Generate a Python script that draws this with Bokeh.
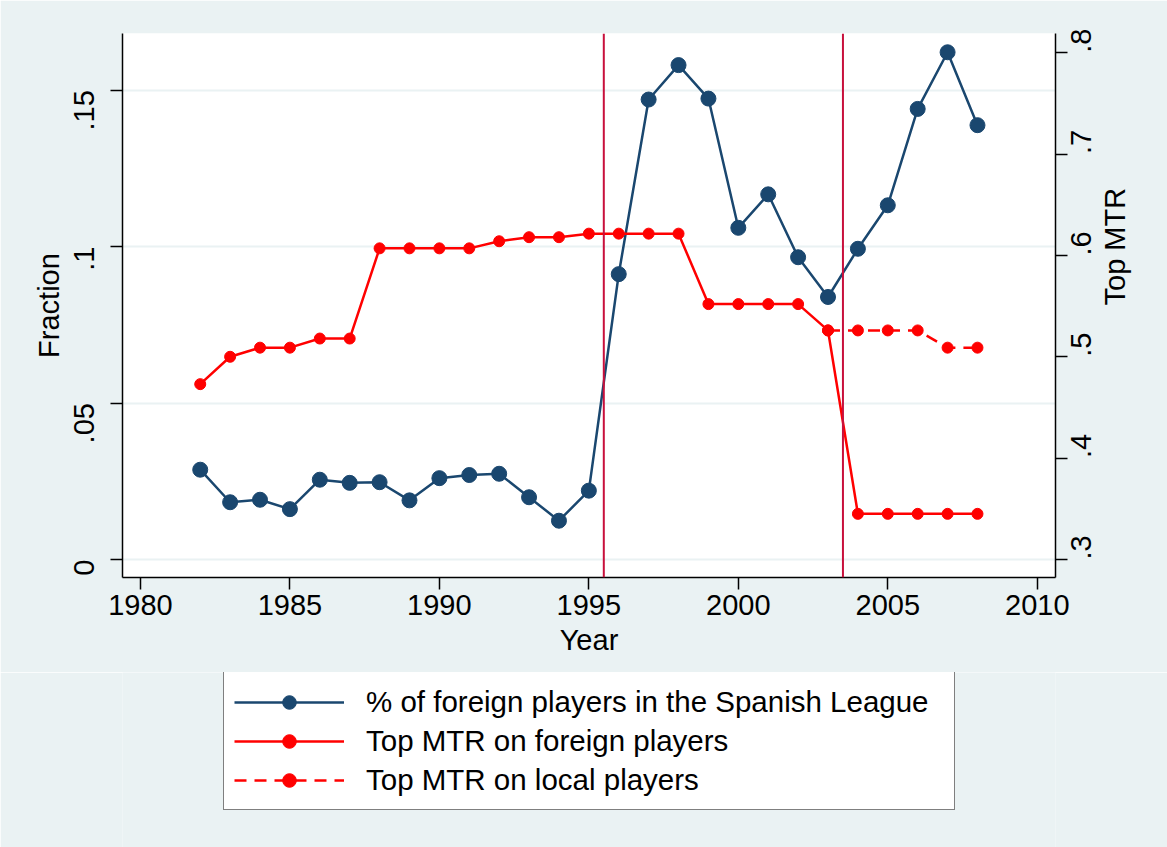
import math
from bokeh.plotting import figure
from bokeh.layouts import column
from bokeh.models import (Range1d, LinearAxis, FixedTicker, Span, Legend,
                          LegendItem)
from bokeh.embed import file_html
from bokeh.resources import INLINE

# ---------------- data ----------------
years = list(range(1982, 2009))
foreign_share = [0.0287, 0.0183, 0.0191, 0.0161, 0.0255, 0.0245, 0.0247,
                 0.0189, 0.0260, 0.0270, 0.0274, 0.0199, 0.0124, 0.0220,
                 0.0912, 0.1470, 0.1580, 0.1473, 0.1060, 0.1167, 0.0966,
                 0.0839, 0.0993, 0.1132, 0.1440, 0.1621, 0.1388]
mtr_foreign = [0.473, 0.500, 0.509, 0.509, 0.518, 0.518,
               0.607, 0.607, 0.607, 0.607, 0.614, 0.618, 0.618,
               0.6215, 0.6215, 0.6215, 0.6215,
               0.552, 0.552, 0.552, 0.552, 0.526,
               0.345, 0.345, 0.345, 0.345, 0.345]
local_years = [2003, 2004, 2005, 2006, 2007, 2008]
mtr_local = [0.526, 0.526, 0.526, 0.526, 0.509, 0.509]
reform_years = [1995.5, 2003.5]

x_ticks = [1980, 1985, 1990, 1995, 2000, 2005, 2010]
left_ticks = [0, 0.05, 0.1, 0.15]
left_labels = ["0", ".05", ".1", ".15"]
right_ticks = [0.3, 0.4, 0.5, 0.6, 0.7, 0.8]
right_labels = [".3", ".4", ".5", ".6", ".7", ".8"]

series_labels = ["% of foreign players in the Spanish League",
                 "Top MTR on foreign players",
                 "Top MTR on local players"]

# ---------------- style ----------------
BG = "#EAF2F3"
NAVY = "#1A476F"
RED = "#FF0000"
XLINE = "#C8103C"
FONT = "Liberation Sans"
FS = "29px"
W = 1167

p = figure(width=W, height=672,
           x_range=Range1d(1979.4, 2010.61),
           y_range=Range1d(-0.00575, 0.1681),
           output_backend="svg", toolbar_location=None,
           min_border_left=122, min_border_right=112,
           min_border_top=33, min_border_bottom=95,
           background_fill_color="white", border_fill_color=BG,
           outline_line_color=None)

p.extra_y_ranges = {"mtr": Range1d(0.2822, 0.819)}

def style_axis(ax):
    ax.axis_line_color = "black"
    ax.axis_line_width = 1.5
    ax.major_tick_line_color = "black"
    ax.major_tick_line_width = 1.5
    ax.major_tick_out = 12
    ax.major_tick_in = 0
    ax.minor_tick_out = 0
    ax.minor_tick_in = 0
    ax.major_label_text_font = FONT
    ax.major_label_text_font_size = FS
    ax.major_label_text_color = "black"
    ax.axis_label_text_font = FONT
    ax.axis_label_text_font_size = FS
    ax.axis_label_text_font_style = "normal"
    ax.axis_label_text_color = "black"

xax = p.xaxis[0]
style_axis(xax)
xax.ticker = FixedTicker(ticks=x_ticks)
xax.axis_label = "Year"
xax.major_label_standoff = 5
xax.axis_label_standoff = 6

yax = p.yaxis[0]
style_axis(yax)
yax.ticker = FixedTicker(ticks=left_ticks)
yax.major_label_overrides = {t: l for t, l in zip(left_ticks, left_labels)}
yax.major_label_orientation = math.pi / 2
yax.axis_label = "Fraction"
yax.major_label_standoff = 26
yax.axis_label_standoff = -3

rax = LinearAxis(y_range_name="mtr", ticker=FixedTicker(ticks=right_ticks))
style_axis(rax)
rax.major_label_overrides = {t: l for t, l in zip(right_ticks, right_labels)}
rax.major_label_orientation = math.pi / 2
rax.axis_label = "Top MTR"
rax.axis_label_orientation = math.pi / 2
rax.major_label_standoff = 14
rax.axis_label_standoff = 10
p.add_layout(rax, "right")

p.xgrid.visible = False
p.ygrid.ticker = FixedTicker(ticks=left_ticks)
p.ygrid.grid_line_color = BG
p.ygrid.grid_line_width = 2

# ---------------- glyphs ----------------
navy_line = dict(line_color=NAVY, line_width=2.5)
navy_dot = dict(size=15, fill_color=NAVY, line_color=NAVY)
red_line = dict(line_color=RED, line_width=2.5)
red_dash = dict(line_color=RED, line_width=2.5, line_dash="12 8")
red_dot = dict(size=11, fill_color=RED, line_color=RED)

p.line(years, foreign_share, **navy_line)
p.scatter(years, foreign_share, **navy_dot)
p.line(local_years, mtr_local, y_range_name="mtr", **red_dash)
p.scatter(local_years, mtr_local, y_range_name="mtr", **red_dot)
p.line(years, mtr_foreign, y_range_name="mtr", **red_line)
p.scatter(years, mtr_foreign, y_range_name="mtr", **red_dot)

for yr in reform_years:
    p.add_layout(Span(location=yr, dimension="height", line_color=XLINE,
                      line_width=2))

# ---------------- legend panel ----------------
# the same series are drawn here outside the visible range, so that the
# legend below the chart has renderers with the right styles to show
lf = figure(width=W, height=175, x_range=Range1d(0, 1), y_range=Range1d(0, 1),
            output_backend="svg", toolbar_location=None,
            x_axis_type=None, y_axis_type=None, min_border=0,
            background_fill_color=BG, border_fill_color=BG,
            outline_line_color=None)
lf.grid.visible = False

l1 = lf.line(years, foreign_share, **navy_line)
s1 = lf.scatter(years, foreign_share, **navy_dot)
l2 = lf.line(years, mtr_foreign, **red_line)
s2 = lf.scatter(years, mtr_foreign, **red_dot)
l3 = lf.line(local_years, mtr_local, **red_dash)
s3 = lf.scatter(local_years, mtr_local, **red_dot)

legend = Legend(items=[
    LegendItem(label=series_labels[0], renderers=[l1, s1]),
    LegendItem(label=series_labels[1], renderers=[l2, s2]),
    LegendItem(label=series_labels[2], renderers=[l3, s3]),
], location=(101, 37), orientation="vertical",
    label_text_font=FONT, label_text_font_size="29.5px",
    label_text_color="black",
    glyph_width=110, glyph_height=34, label_standoff=22, label_width=578,
    label_height=39, padding=10, spacing=0, margin=0,
    border_line_color="black", border_line_width=1.2,
    background_fill_color="white", background_fill_alpha=1.0)
lf.add_layout(legend)

layout = column(p, lf, spacing=0)
open("out.html", "w").write(file_html(layout, INLINE))
